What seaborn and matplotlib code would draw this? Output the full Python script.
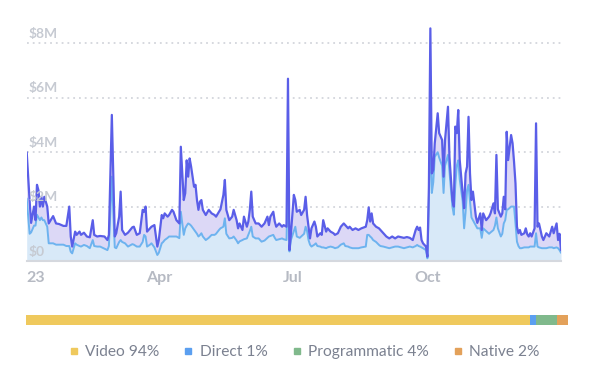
import numpy as np
import pandas as pd
import matplotlib
matplotlib.use("Agg")
import matplotlib.pyplot as plt
import seaborn as sns
from matplotlib.lines import Line2D

# ---------------- data ----------------
start_date = "2023-01-01"
end_date = "2023-12-31"

day = [
    0, 2, 3, 5, 6, 7, 8, 9, 10, 11,
    12, 14, 15, 18, 20, 22, 25, 27, 29, 30,
    31, 33, 34, 36, 37, 39, 41, 43, 45, 46,
    48, 50, 53, 55, 56, 58, 60, 61, 63, 64,
    65, 67, 69, 72, 73, 75, 77, 79, 80, 81,
    82, 84, 85, 87, 89, 90, 92, 93, 94, 96,
    97, 99, 100, 102, 104, 105, 107, 108, 109, 110,
    111, 112, 114, 115, 116, 117, 118, 119, 120, 122,
    124, 126, 128, 129, 131, 132, 134, 135, 136, 138,
    140, 141, 143, 144, 145, 147, 148, 150, 151, 152,
    153, 154, 156, 158, 160, 162, 164, 165, 166, 168,
    169, 170, 172, 174, 175, 177, 178, 179, 180, 182,
    183, 184, 186, 187, 189, 190, 191, 192, 193, 194,
    196, 197, 198, 200, 201, 202, 204, 205, 207, 209,
    210, 212, 214, 216, 217, 219, 220, 222, 224, 226,
    228, 231, 232, 233, 234, 235, 236, 238, 240, 241,
    243, 245, 247, 249, 251, 253, 257, 259, 261, 263,
    265, 266, 267, 268, 269, 270, 272, 273, 274, 275,
    276, 277, 278, 280, 281, 283, 284, 285, 287, 288,
    290, 291, 292, 293, 294, 295, 297, 298, 299, 300,
    301, 302, 303, 304, 306, 307, 309, 310, 311, 313,
    315, 316, 318, 319, 320, 321, 323, 324, 325, 326,
    327, 328, 330, 331, 332, 333, 334, 335, 336, 337,
    339, 340, 341, 342, 343, 344, 346, 347, 348, 349,
    351, 352, 354, 356, 358, 359, 361, 362, 363, 364,
]

# upper series (millions $)
gross = [
    4.0, 2.2, 1.4, 2.0, 1.5, 2.8, 2.6, 2.0, 2.36, 2.0,
    2.36, 2.0, 1.38, 1.65, 1.38, 1.36, 1.29, 1.29, 2.0, 0.9,
    0.53, 1.08, 0.96, 1.08, 0.96, 1.04, 0.9, 0.87, 1.5, 0.96,
    0.9, 0.92, 0.9, 0.77, 0.96, 5.37, 0.9, 1.02, 1.63, 2.55,
    1.14, 0.96, 1.04, 1.24, 1.26, 0.96, 1.02, 1.88, 1.81, 2.0,
    1.08, 1.2, 1.26, 1.32, 0.53, 0.77, 1.69, 1.57, 1.75, 1.63,
    1.69, 1.88, 1.81, 1.5, 1.38, 4.2, 2.24, 2.49, 3.7, 3.1,
    3.77, 3.47, 2.73, 2.8, 2.24, 1.88, 2.18, 2.24, 1.88, 1.69,
    1.88, 1.75, 1.69, 1.63, 1.81, 1.9, 2.43, 2.98, 1.88, 1.5,
    1.63, 1.88, 1.5, 1.2, 1.38, 1.14, 1.63, 1.26, 1.45, 1.88,
    2.55, 1.63, 1.38, 1.38, 1.26, 1.38, 1.63, 1.32, 1.63, 1.81,
    1.45, 1.26, 1.38, 1.26, 1.32, 1.26, 6.7, 0.4, 1.0, 2.43,
    2.24, 1.81, 1.88, 1.69, 1.88, 2.36, 1.69, 1.26, 0.83, 1.2,
    1.45, 1.26, 0.9, 1.02, 0.96, 1.5, 1.08, 1.2, 1.08, 1.02,
    0.96, 1.02, 1.26, 1.38, 1.32, 1.2, 1.26, 1.14, 1.2, 1.14,
    1.2, 1.26, 1.5, 1.97, 1.45, 1.75, 1.38, 1.26, 1.2, 1.14,
    1.02, 0.9, 0.83, 0.9, 0.83, 0.9, 0.85, 0.88, 0.85, 0.77,
    1.14, 1.26, 1.14, 1.23, 0.77, 0.65, 0.53, 0.16, 2.73, 8.55,
    3.22, 3.35, 4.33, 5.43, 4.7, 4.45, 3.1, 4.45, 5.67, 3.83,
    2.24, 2.0, 4.94, 4.7, 5.55, 3.71, 2.49, 1.94, 3.22, 3.47,
    5.3, 3.22, 2.24, 2.55, 1.63, 1.4, 1.75, 1.14, 1.75, 1.5,
    1.63, 1.75, 2.12, 1.75, 3.9, 1.9, 1.63, 1.75, 2.36, 1.9,
    4.75, 3.71, 4.63, 4.33, 3.65, 2.85, 1.26, 1.02, 1.14, 0.96,
    1.02, 1.2, 0.98, 0.9, 1.02, 0.9, 1.2, 5.06, 1.26, 1.38,
    0.9, 0.77, 1.02, 0.9, 1.26, 1.02, 1.38, 0.77, 1.0, 0.4,
]

# lower series (millions $)
net = [
    2.3, 1.0, 1.05, 1.3, 1.3, 1.7, 1.6, 1.5, 1.6, 1.5,
    1.5, 1.26, 0.65, 0.65, 0.6, 0.6, 0.6, 0.55, 0.55, 0.34,
    0.28, 0.65, 0.6, 0.55, 0.53, 0.59, 0.55, 0.47, 0.77, 0.55,
    0.53, 0.53, 0.45, 0.4, 0.55, 3.1, 0.5, 0.47, 0.7, 0.77,
    0.7, 0.65, 0.53, 0.62, 0.6, 0.53, 0.53, 0.7, 0.96, 0.9,
    0.53, 0.6, 0.65, 0.5, 0.22, 0.3, 0.65, 0.7, 0.77, 0.85,
    0.9, 0.9, 0.9, 0.9, 0.84, 1.81, 0.96, 1.2, 1.3, 1.38,
    1.35, 1.3, 1.15, 1.08, 1.0, 0.9, 0.95, 1.02, 0.9, 0.77,
    0.85, 0.96, 0.96, 1.0, 1.14, 1.2, 1.26, 1.57, 1.0, 0.83,
    0.85, 0.9, 0.75, 0.65, 0.72, 0.77, 0.8, 0.83, 0.96, 1.1,
    1.26, 0.9, 0.83, 0.83, 0.71, 0.75, 0.85, 0.9, 0.92, 0.96,
    0.85, 0.77, 0.8, 0.83, 0.8, 0.77, 3.2, 0.35, 0.77, 1.1,
    1.26, 0.9, 0.85, 0.9, 1.0, 1.26, 1.1, 0.77, 0.6, 0.53,
    0.6, 0.65, 0.55, 0.53, 0.5, 0.5, 0.47, 0.5, 0.53, 0.5,
    0.47, 0.5, 0.6, 0.65, 0.55, 0.53, 0.5, 0.47, 0.47, 0.47,
    0.5, 0.53, 0.96, 0.96, 0.9, 0.85, 0.77, 0.7, 0.59, 0.55,
    0.53, 0.5, 0.47, 0.5, 0.53, 0.53, 0.47, 0.5, 0.53, 0.5,
    0.55, 0.59, 0.55, 0.53, 0.5, 0.47, 0.4, 0.1, 2.24, 5.0,
    2.5, 2.9, 3.83, 4.0, 3.8, 3.5, 2.5, 3.5, 3.9, 3.3,
    2.0, 1.7, 2.8, 3.5, 3.7, 3.0, 2.2, 1.2, 1.8, 2.6,
    2.8, 2.2, 1.6, 1.5, 1.3, 1.2, 1.2, 0.85, 1.2, 1.1,
    1.0, 1.05, 1.14, 1.3, 1.6, 1.2, 0.9, 1.0, 1.38, 1.5,
    1.88, 1.9, 2.0, 2.0, 2.0, 1.38, 0.71, 0.55, 0.47, 0.47,
    0.5, 0.5, 0.5, 0.5, 0.53, 0.53, 0.53, 1.02, 0.53, 0.5,
    0.47, 0.47, 0.47, 0.5, 0.5, 0.47, 0.5, 0.47, 0.4, 0.3,
]

ytick_vals = [0, 2, 4, 6, 8]
ytick_labels = ["$0", "$2M", "$4M", "$6M", "$8M"]
xtick_dates = ["2023-01-01", "2023-04-01", "2023-07-01", "2023-10-01"]
xtick_labels = ["23", "Apr", "Jul", "Oct"]

channels = ["Video", "Direct", "Programmatic", "Native"]
shares = [94, 1, 4, 2]
channel_colors = ["#efc95d", "#5b9ff0", "#80b98c", "#e3a15a"]

# ---------------- style ----------------
sns.set_theme(style="white")
plt.rcParams["font.family"] = ["Lato", "DejaVu Sans"]

UPPER = "#5a5ee8"
LOWER = "#6db3ef"
FILL_LOW = "#d8e9f8"
FILL_MID = "#dcd8f6"
GRID = "#d3d6dc"
AXIS = "#d5d8de"
YLAB = "#c6cad2"
XLAB = "#b6bac3"

df = pd.DataFrame({
    "date": pd.Timestamp(start_date) + pd.to_timedelta(day, unit="D"),
    "gross": gross,
    "net": net,
})

fig = plt.figure(figsize=(6, 3.69), dpi=100)
ax = fig.add_axes([0.0445, 0.2927, 0.8905, 0.6488])

ax.fill_between(df["date"], 0, df["net"], color=FILL_LOW, lw=0, zorder=1)
ax.fill_between(df["date"], df["net"], df["gross"], color=FILL_MID, lw=0, zorder=1)
sns.lineplot(data=df, x="date", y="net", color=LOWER, lw=1.4, ax=ax, zorder=3)
sns.lineplot(data=df, x="date", y="gross", color=UPPER, lw=1.6, ax=ax, zorder=4)

for v, lab in zip(ytick_vals, ytick_labels):
    if v > 0:
        ax.axhline(v, color=GRID, lw=1.3, ls=(0, (1, 2.2)), zorder=0)
    ax.annotate(lab, xy=(0, v), xycoords=("axes fraction", "data"),
                xytext=(1, 2.5), textcoords="offset points",
                ha="left", va="bottom", fontsize=10, fontweight="bold",
                color=YLAB, zorder=5)

ax.set_ylim(0, 8.8)
ax.set_xlim(pd.Timestamp(start_date), pd.Timestamp(end_date))
ax.set_yticks([])
ax.set_xticks(pd.to_datetime(xtick_dates))
ax.set_xticklabels(xtick_labels)
ax.get_xticklabels()[0].set_ha("left")
ax.tick_params(axis="x", direction="inout", length=9, width=1.3, color=AXIS,
               pad=3, labelsize=11.5, labelcolor=XLAB)
for t in ax.get_xticklabels():
    t.set_fontweight("bold")
ax.set_xlabel("")
ax.set_ylabel("")
for s in ["left", "top", "right"]:
    ax.spines[s].set_visible(False)
ax.spines["bottom"].set_color(AXIS)
ax.spines["bottom"].set_linewidth(1.5)
ax.set_facecolor("none")

# ---------------- share bar ----------------
ax2 = fig.add_axes([0.043, 0.1192, 0.9033, 0.0271])
lefts = np.concatenate([[0], np.cumsum(shares)[:-1]])
ax2.barh([0] * len(shares), shares, left=lefts, color=channel_colors,
         height=1.0, linewidth=0)
ax2.set_xlim(0, sum(shares))
ax2.set_ylim(-0.5, 0.5)
ax2.axis("off")

handles = [Line2D([], [], marker="s", ls="", color=c, markersize=4.5)
           for c in channel_colors]
labels = [f"{c} {p}%" for c, p in zip(channels, shares)]
fig.legend(handles, labels, loc="center", bbox_to_anchor=(0.508, 0.046),
           ncol=4, frameon=False, fontsize=11.2, handlelength=0.5,
           handletextpad=0.5, columnspacing=1.6, labelcolor="#7b8190")

fig.savefig("out.png", dpi=100)
